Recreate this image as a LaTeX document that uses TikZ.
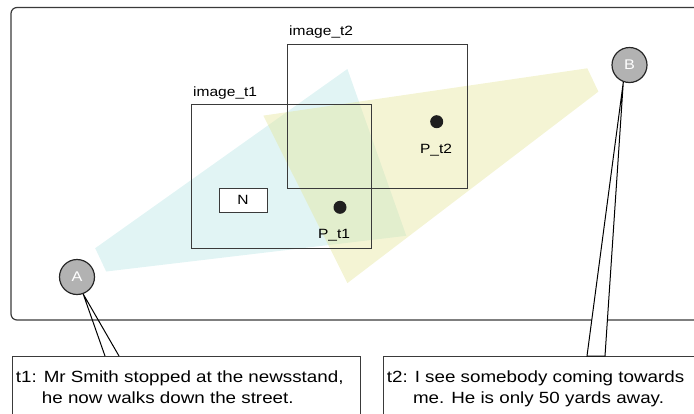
\documentclass[tikz,border=0pt]{standalone}
\usepackage{fontspec}
\setmainfont{Liberation Sans}[FakeStretch=1.16]
\usetikzlibrary{calc}
\definecolor{linegray}{HTML}{3A3A3A}
\definecolor{fovcyan}{RGB}{180,228,228}
\definecolor{fovyellow}{RGB}{228,228,148}
\tikzset{
  frame/.style={draw=linegray, line width=1.2pt, rounded corners=6pt},
  fovA/.style={fill=fovcyan, fill opacity=0.4},
  fovB/.style={fill=fovyellow, fill opacity=0.4},
  imgbox/.style={draw=linegray, line width=1pt, rectangle, inner sep=0pt,
    minimum width=180pt, minimum height=144pt, anchor=north west},
  tag/.style={font=\fontsize{13.4}{16}\selectfont, inner sep=0pt},
  landmark/.style={draw=linegray, line width=1pt, fill=white, rectangle, inner sep=0pt,
    minimum width=48pt, minimum height=24pt, font=\fontsize{13.4}{16}\selectfont},
  spot/.style={circle, fill=black!88, minimum size=13pt, inner sep=0pt},
  person/.style={circle, draw=black!85, line width=1.2pt, fill=black!30, text=white,
    minimum size=35pt, inner sep=0pt, font=\fontsize{14}{16}\selectfont},
  storybox/.style={draw=linegray, line width=1pt, rectangle, inner sep=0pt,
    minimum height=80pt, anchor=north west},
  story/.style={font=\fontsize{16.2}{20}\selectfont, inner sep=0pt, anchor=base west},
  callout/.style={draw=black, line width=1pt, line join=miter}
}
\begin{document}
\begin{tikzpicture}[x=1pt,y=-1pt]
\useasboundingbox (0,0) rectangle (694,413);
\clip (0,0) rectangle (694,413);

% scene frame
\draw[frame] (11,7.5) rectangle (730,320);

% fields of view
\fill[fovA] (95.2,248.2) -- (347.4,69) -- (406.3,235.8) -- (106.2,271.5) -- cycle;
\fill[fovB] (263.3,115.6) -- (587.3,68.3) -- (598.4,91.6) -- (347.4,283.1) -- cycle;

% captured images
\node[imgbox] (img1) at (191,104) {};
\node[imgbox] (img2) at (287,44) {};
\node[tag, anchor=base west] (img1lbl) at (193,96.5) {image\_t1};
\node[tag, anchor=base west] (img2lbl) at (289,35.5) {image\_t2};

% newsstand and positions
\node[landmark] (N) at (243,200) {N};
\node[spot] (pt1) at (340,207.3) {};
\node[spot] (pt2) at (436.7,121.7) {};
\node[tag, anchor=base] (pt1lbl) at (334,238.5) {P\_t1};
\node[tag, anchor=base] (pt2lbl) at (436,153) {P\_t2};

% observers
\node[person] (A) at (77,277) {A};
\node[person] (B) at (629.5,65) {B};

% statements
\node[storybox, minimum width=348pt] (t1box) at (12,356) {};
\node[storybox, minimum width=340pt] (t2box) at (383,356) {};
\node[story] (t1a) at (15.7,382.5) {t1: Mr Smith stopped at the newsstand,};
\node[story] (t1b) at (41.7,403) {he now walks down the street.};
\node[story] (t2a) at (386.7,382.5) {t2: I see somebody coming towards};
\node[story] (t2b) at (412.8,403) {me. He is only 50 yards away.};

% speech callouts
\draw[callout] ($(t1box.north west)+(93,0)$) -- (A.-70) -- ($(t1box.north west)+(107,0)$);
\path[callout, fill=white] ($(t2box.north west)+(204,0)$) -- (B.-110) -- ($(t2box.north west)+(222,0)$) -- cycle;
\end{tikzpicture}
\end{document}
